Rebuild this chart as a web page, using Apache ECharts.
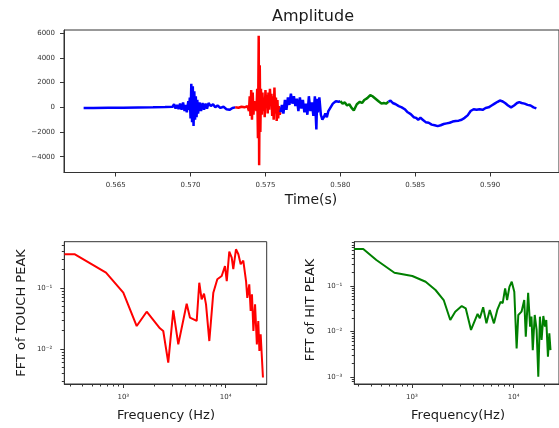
<!DOCTYPE html>
<html>
<head>
<meta charset="utf-8">
<script src="https://cdn.jsdelivr.net/npm/echarts@6/dist/echarts.min.js"></script>
<style>
  html, body { margin: 0; padding: 0; background: #fff; }
  #chart { width: 559px; height: 428px; }
</style>
</head>
<body>
<div id="chart"></div>
<script>
// amplitude trace, split by colour: [time (s), amplitude]
const quietBefore = [
  [0.56286, -60], [0.5635, -60], [0.5645, -40], [0.5655, -30], [0.5665, -10], [0.5675, 0], [0.5683, 20],
  [0.56880, 50], [0.56890, 250], [0.56900, -100], [0.56910, 200], [0.56920, -150], [0.56930, 300],
  [0.56940, -200], [0.56950, 400], [0.56960, -300], [0.56965, 200], [0.56975, -400], [0.56985, 500],
  [0.56990, -200], [0.56995, 800], [0.57000, -900], [0.57005, 1900], [0.57010, -1200], [0.57015, 1700],
  [0.57020, -1500], [0.57025, 1300], [0.57030, -1000], [0.57035, 900], [0.57040, -800], [0.57045, 600],
  [0.57050, -500], [0.57060, 400], [0.57070, -300], [0.57080, 350], [0.57090, -200], [0.57100, 300],
  [0.57110, -100], [0.57120, 350], [0.57135, 100], [0.57150, 250], [0.57165, 0], [0.57180, 150],
  [0.57200, -50], [0.57220, 50], [0.57240, -150], [0.57260, -200], [0.57280, -50], [0.57298, 0]
];
const touchPeak = [
  [0.57298, 0], [0.57320, -30], [0.57340, 50], [0.57360, 0], [0.57380, 100], [0.57390, -300],
  [0.57395, 900], [0.57400, -700], [0.57405, 1400], [0.57410, -1000], [0.57415, 1200], [0.57420, -600],
  [0.57425, 500], [0.57430, -200], [0.57435, 300], [0.57440, -300], [0.57445, 1500], [0.57450, -2500],
  [0.57455, 5800], [0.57458, -4700], [0.57462, 3400], [0.57466, -2000], [0.57470, 1500], [0.57475, -600],
  [0.57480, 1200], [0.57485, -300], [0.57490, 800], [0.57495, -800], [0.57500, 1400], [0.57505, 200],
  [0.57510, 1000], [0.57515, -500], [0.57520, 1200], [0.57525, -200], [0.57530, 1500], [0.57535, 300],
  [0.57540, 1100], [0.57545, -700], [0.57550, 900], [0.57555, -1000], [0.57560, 1600], [0.57565, -500],
  [0.57570, 800], [0.57575, -1100], [0.57580, 600], [0.57585, -900], [0.57590, 100], [0.57595, -600],
  [0.57600, -400]
];
const between = [
  [0.57600, -400], [0.57610, 200], [0.57620, -500], [0.57630, 600], [0.57640, -200], [0.57650, 800],
  [0.57660, 200], [0.57670, 1100], [0.57680, 300], [0.57690, 900], [0.57700, 100], [0.57710, 700],
  [0.57720, -300], [0.57730, 800], [0.57740, -100], [0.57750, 600], [0.57760, -400], [0.57770, 300],
  [0.57780, -600], [0.57790, 900], [0.57800, -300], [0.57810, 400], [0.57820, -700], [0.57830, 900],
  [0.57840, -1800], [0.57845, 700], [0.57850, -400], [0.57860, 800], [0.57870, -600], [0.57880, -1000],
  [0.57890, -800], [0.57900, -500], [0.57910, -800], [0.57920, -300], [0.57930, -200], [0.57940, 100],
  [0.57950, 300], [0.57960, 200], [0.57970, 500], [0.57980, 600], [0.57990, 450], [0.58000, 500]
];
const hitPeak = [
  [0.58000, 500], [0.58015, 300], [0.58030, 400], [0.58045, 150], [0.58060, 250], [0.58075, -50],
  [0.58090, -250], [0.58100, -100], [0.58110, 250], [0.58120, 100], [0.58130, 450], [0.58145, 350],
  [0.58160, 600], [0.58170, 450], [0.58180, 750], [0.58190, 850], [0.58200, 1000], [0.58207, 1150],
  [0.58215, 900], [0.58225, 1050], [0.58235, 700], [0.58245, 750], [0.58255, 500], [0.58265, 550],
  [0.58275, 300], [0.58290, 350], [0.58305, 300], [0.58321, 450]
];
const quietAfter = [
  [0.58321, 450], [0.58335, 550], [0.58350, 350], [0.58370, 250], [0.58390, 100], [0.58410, 0],
  [0.58430, -150], [0.58450, -400], [0.58470, -550], [0.58490, -800], [0.58505, -850], [0.58520, -1000],
  [0.58535, -850], [0.58550, -1000], [0.58570, -1200], [0.58590, -1250], [0.58610, -1400], [0.58630, -1450],
  [0.58650, -1520], [0.58670, -1450], [0.58690, -1350], [0.58710, -1300], [0.58730, -1250], [0.58750, -1150],
  [0.58770, -1100], [0.58790, -1080], [0.58810, -1000], [0.58830, -850], [0.58850, -650], [0.58870, -300],
  [0.58890, -150], [0.58910, -200], [0.58930, -150], [0.58950, -200], [0.58970, -50], [0.58990, 0],
  [0.59010, 150], [0.59030, 300], [0.59050, 450], [0.59065, 550], [0.59080, 500], [0.59100, 350],
  [0.59120, 150], [0.59140, 0], [0.59160, 150], [0.59180, 350], [0.59195, 420], [0.59210, 350],
  [0.59230, 300], [0.59250, 200], [0.59270, 150], [0.59290, 0], [0.59309, -80]
];

// FFT magnitudes: [frequency (Hz), magnitude]
const touchFft = [
  [266, 0.357], [337, 0.357], [678, 0.178], [1000, 0.0837], [1352, 0.0238], [1692, 0.0408],
  [2279, 0.0218], [2456, 0.0197], [2748, 0.00596], [3077, 0.043], [3443, 0.0119], [4159, 0.0553],
  [4480, 0.0326], [5210, 0.0288], [5520, 0.122], [5820, 0.0653], [6140, 0.0807], [6424, 0.054],
  [6920, 0.0135], [7570, 0.0837], [8280, 0.139], [9140, 0.157], [9840, 0.229], [10240, 0.130],
  [10840, 0.394], [11450, 0.314], [11860, 0.203], [12600, 0.431], [13300, 0.357], [14000, 0.245],
  [14850, 0.28], [15800, 0.13], [16250, 0.069], [16990, 0.115], [17530, 0.042], [18050, 0.0785],
  [18640, 0.0197], [19350, 0.054], [20150, 0.0119], [20800, 0.0288], [21330, 0.0093], [21950, 0.0174],
  [23110, 0.0034]
];
const hitFft = [
  [270, 0.65], [333, 0.65], [448, 0.372], [674, 0.196], [1010, 0.166], [1365, 0.124], [1707, 0.0817],
  [2054, 0.0492], [2384, 0.0179], [2665, 0.0273], [3090, 0.0363], [3380, 0.0323], [3810, 0.0108],
  [4420, 0.0243], [4650, 0.0195], [5015, 0.034], [5400, 0.0151], [5825, 0.0297], [6400, 0.0151],
  [6900, 0.0297], [7440, 0.045], [7800, 0.042], [8240, 0.089], [8620, 0.0492], [9080, 0.096],
  [9570, 0.124], [10140, 0.075], [10690, 0.00426], [11100, 0.0231], [11940, 0.0273], [12700, 0.0492],
  [13150, 0.0077], [13870, 0.0713], [14500, 0.0128], [14950, 0.0212], [15400, 0.0039], [16100, 0.0231],
  [16800, 0.0108], [17450, 0.00102], [18100, 0.0212], [18800, 0.0065], [19550, 0.0219], [20300, 0.0128],
  [20900, 0.0179], [21700, 0.0028], [22400, 0.0091], [23000, 0.0039]
];

// tick values
const timeTicks = [0.565, 0.570, 0.575, 0.580, 0.585, 0.590];
const ampTicks = [-4000, -2000, 0, 2000, 4000, 6000];
const freqMajor = [1000, 10000];
const freqMinor = [300, 400, 500, 600, 700, 800, 900, 2000, 3000, 4000, 5000, 6000, 7000, 8000, 9000, 20000];
const touchMajor = [0.01, 0.1];
const touchMinor = [0.003, 0.004, 0.005, 0.006, 0.007, 0.008, 0.009, 0.02, 0.03, 0.04, 0.05, 0.06, 0.07, 0.08, 0.09, 0.2, 0.3, 0.4, 0.5];
const hitMajor = [0.001, 0.01, 0.1];
const hitMinor = [0.0008, 0.0009, 0.002, 0.003, 0.004, 0.005, 0.006, 0.007, 0.008, 0.009, 0.02, 0.03, 0.04, 0.05, 0.06, 0.07, 0.08, 0.09, 0.2, 0.3, 0.4, 0.5, 0.6, 0.7, 0.8, 0.9];

const FONT = 'DejaVu Sans';
const SUP = { '-': '\u207B', '0': '\u2070', '1': '\u00B9', '2': '\u00B2', '3': '\u00B3', '4': '\u2074' };
function powLabel(v) {
  const e = String(Math.round(Math.log10(v)));
  return '10' + e.split('').map(c => SUP[c]).join('');
}

const frame = { show: true, borderColor: '#333', borderWidth: 1, backgroundColor: '#fff' };
const labelStyle = { fontSize: 7, color: '#333', fontFamily: FONT };

function majorAxis(grid, type, pos, min, max, ticks, fmt, margin) {
  return {
    type: type, gridIndex: grid, position: pos, min: min, max: max,
    axisLine: { show: true, onZero: false, lineStyle: { color: '#333', width: 1 } },
    axisTick: { show: true, length: 4, customValues: ticks, lineStyle: { color: '#333' } },
    axisLabel: Object.assign({ customValues: ticks, formatter: fmt, margin: margin }, labelStyle),
    splitLine: { show: false }, minorTick: { show: false }
  };
}
function minorAxis(grid, pos, min, max, ticks) {
  return {
    type: 'log', gridIndex: grid, position: pos, min: min, max: max,
    axisLine: { show: false, onZero: false },
    axisTick: { show: true, length: 2.5, customValues: ticks, lineStyle: { color: '#333' } },
    axisLabel: { show: false }, splitLine: { show: false }
  };
}

const chart = echarts.init(document.getElementById('chart'));

function trace(data, color) {
  return {
    type: 'line', xAxisIndex: 0, yAxisIndex: 0, data: data, showSymbol: false,
    lineStyle: { color: color, width: 2.5 }, z: 3
  };
}

chart.setOption({
  animation: false,
  backgroundColor: '#fff',
  textStyle: { fontFamily: FONT },
  grid: [
    Object.assign({ left: 64, top: 30, width: 498, height: 142.5 }, frame),
    Object.assign({ left: 64.3, top: 241.7, width: 202.4, height: 142.3 }, frame),
    Object.assign({ left: 354.3, top: 241.7, width: 208, height: 142.3 }, frame)
  ],
  xAxis: [
    majorAxis(0, 'value', 'bottom', 0.56155, 0.5946, timeTicks, v => v.toFixed(3), 9),
    majorAxis(1, 'log', 'bottom', 265.4, 25140, freqMajor, powLabel, 10),
    minorAxis(1, 'bottom', 265.4, 25140, freqMinor),
    majorAxis(2, 'log', 'bottom', 272, 27870, freqMajor, powLabel, 10),
    minorAxis(2, 'bottom', 272, 27870, freqMinor)
  ],
  yAxis: [
    majorAxis(0, 'value', 'left', -5279, 6267, ampTicks, v => (v < 0 ? '\u2212' + (-v) : String(v)), 9),
    majorAxis(1, 'log', 'left', 0.002667, 0.574, touchMajor, powLabel, 12),
    minorAxis(1, 'left', 0.002667, 0.574, touchMinor),
    majorAxis(2, 'log', 'left', 0.000702, 0.941, hitMajor, powLabel, 12),
    minorAxis(2, 'left', 0.000702, 0.941, hitMinor)
  ],
  series: [
    trace(quietBefore, '#0000ff'),
    trace(touchPeak, '#ff0000'),
    trace(between, '#0000ff'),
    trace(hitPeak, '#008000'),
    trace(quietAfter, '#0000ff'),
    {
      type: 'line', xAxisIndex: 1, yAxisIndex: 1, data: touchFft, showSymbol: false,
      lineStyle: { color: '#ff0000', width: 2 }
    },
    {
      type: 'line', xAxisIndex: 3, yAxisIndex: 3, data: hitFft, showSymbol: false,
      lineStyle: { color: '#008000', width: 2 }
    }
  ],
  graphic: [
    { type: 'text', x: 313, y: 17, style: { text: 'Amplitude', font: '16px "DejaVu Sans"', fill: '#1a1a1a', align: 'center', verticalAlign: 'middle' } },
    { type: 'text', x: 311, y: 200, style: { text: 'Time(s)', font: '14px "DejaVu Sans"', fill: '#1a1a1a', align: 'center', verticalAlign: 'middle' } },
    { type: 'text', x: 22, y: 313, rotation: Math.PI / 2, style: { text: 'FFT of TOUCH PEAK', font: '13px "DejaVu Sans"', fill: '#1a1a1a', align: 'center', verticalAlign: 'middle' } },
    { type: 'text', x: 166, y: 416, style: { text: 'Frequency (Hz)', font: '13px "DejaVu Sans"', fill: '#1a1a1a', align: 'center', verticalAlign: 'middle' } },
    { type: 'text', x: 311, y: 310, rotation: Math.PI / 2, style: { text: 'FFT of HIT PEAK', font: '13px "DejaVu Sans"', fill: '#1a1a1a', align: 'center', verticalAlign: 'middle' } },
    { type: 'text', x: 458, y: 416, style: { text: 'Frequency(Hz)', font: '13px "DejaVu Sans"', fill: '#1a1a1a', align: 'center', verticalAlign: 'middle' } }
  ]
});
</script>
</body>
</html>
